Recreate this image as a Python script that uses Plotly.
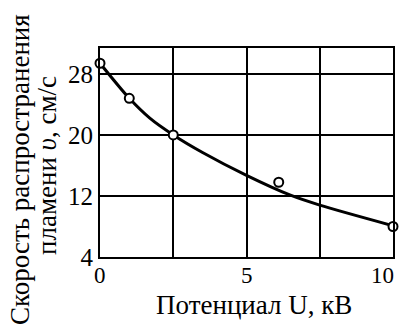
import plotly.graph_objects as go

# Measured flame speed vs. applied potential
potential_kv = [0, 1, 2.5, 6.1, 10]
speed_cm_s = [29.4, 24.8, 20.0, 13.8, 8.0]

# Smoothed trend curve
curve_kv = [0, 1, 1.7, 2.5, 3.5, 5, 6.5, 7.5, 10]
curve_speed = [29.4, 24.8, 22.2, 20.0, 17.7, 14.7, 12.1, 10.8, 8.1]

x_grid = [0, 2.5, 5, 7.5, 10]
x_label_vals = [0, 5, 10]
x_label_text = ["0", "5", "10"]
y_ticks = [4, 12, 20, 28]

FONT = "Liberation Serif, Times New Roman, DejaVu Serif, serif"

# Plot-area geometry in pixels (used to place the free-standing titles)
W, H = 400, 327
L, R, T, B = 100, 7, 48, 70
PW, PH = W - L - R, H - T - B


def px_x(px):
    return (px - L) / PW


def px_y(py):
    return (H - B - py) / PH


fig = go.Figure()
fig.add_trace(go.Scatter(
    x=curve_kv, y=curve_speed, mode="lines",
    line=dict(color="black", width=3, shape="spline", smoothing=0.8),
    hoverinfo="skip", cliponaxis=False,
))
fig.add_trace(go.Scatter(
    x=potential_kv, y=speed_cm_s, mode="markers",
    marker=dict(symbol="circle", size=9, color="white",
                line=dict(color="black", width=2)),
    cliponaxis=False,
))

axis_common = dict(
    showgrid=True, gridcolor="black", gridwidth=2,
    showline=True, linecolor="black", linewidth=2, mirror=True,
    zeroline=False, ticks="", ticklen=0, automargin=False,
)

# x tick labels drawn as annotations so the last one can sit inside the page
x_labels = []
for val, txt in zip(x_label_vals, x_label_text):
    last = val == x_label_vals[-1]
    x_labels.append(dict(
        text=txt, xref="x", yref="paper", x=val, y=px_y(261),
        xanchor="right" if last else "center", yanchor="top",
        xshift=3 if last else 0, showarrow=False,
        font=dict(family=FONT, size=23, color="black"),
    ))

fig.update_layout(
    width=W, height=H,
    margin=dict(l=L, r=R, t=T, b=B, autoexpand=False),
    paper_bgcolor="white", plot_bgcolor="white",
    showlegend=False,
    font=dict(family=FONT, color="black", size=24),
    xaxis=dict(
        range=[0, 10], tickvals=x_grid, showticklabels=False,
        **axis_common,
    ),
    yaxis=dict(
        range=[4, 31.4], tickvals=y_ticks,
        tickfont=dict(family=FONT, size=25, color="black"),
        **axis_common,
    ),
    annotations=x_labels + [
        dict(text="Потенциал U, кВ", xref="paper", yref="paper",
             x=px_x(254), y=px_y(305),
             xanchor="center", yanchor="middle", showarrow=False,
             font=dict(family=FONT, size=27, color="black")),
        dict(text="Скорость распространения",
             xref="paper", yref="paper",
             x=px_x(20), y=px_y(170),
             xanchor="center", yanchor="middle", showarrow=False,
             textangle=-90,
             font=dict(family=FONT, size=27, color="black")),
        dict(text="пламени <i>υ</i>, см/с",
             xref="paper", yref="paper",
             x=px_x(47), y=px_y(166),
             xanchor="center", yanchor="middle", showarrow=False,
             textangle=-90,
             font=dict(family=FONT, size=27, color="black")),
    ],
)

fig.write_html("out.html")
